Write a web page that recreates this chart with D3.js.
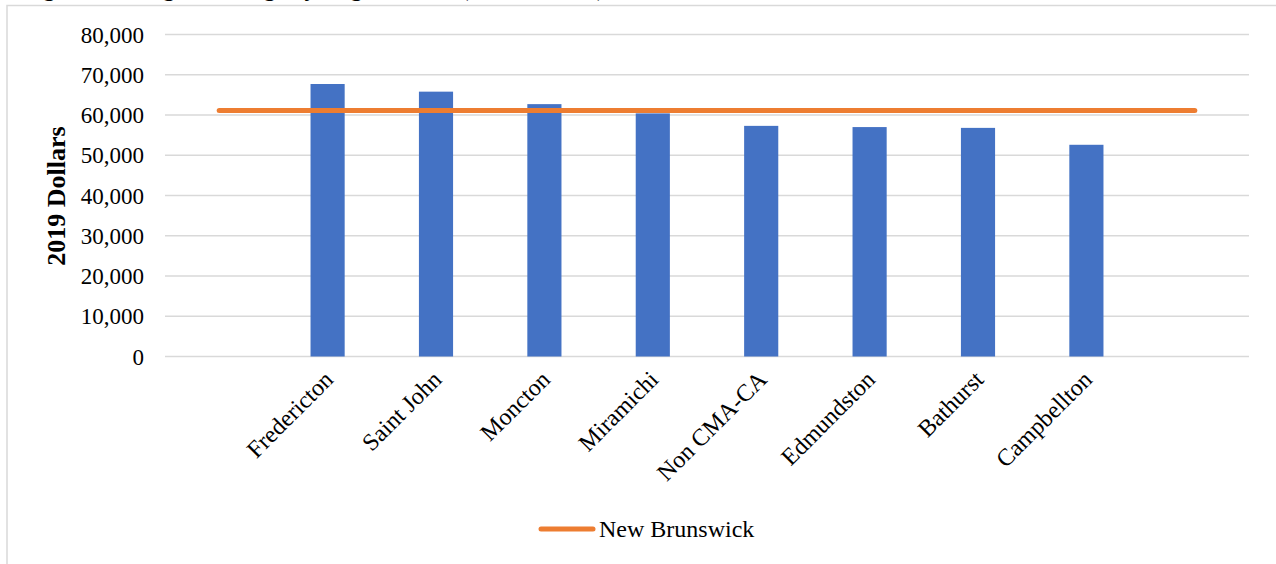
<!DOCTYPE html>
<html>
<head>
<meta charset="utf-8">
<script src="https://cdn.jsdelivr.net/npm/d3@7"></script>
<style>
  html, body { margin: 0; padding: 0; background: #fff; }
  svg { display: block; }
  text { font-family: "Liberation Serif", "Times New Roman", serif; fill: #000; }
</style>
</head>
<body>
<svg id="chart" width="1276" height="564"></svg>
<script>
// ---- data ----
const categories = ["Fredericton", "Saint John", "Moncton", "Miramichi", "Non CMA-CA", "Edmundston", "Bathurst", "Campbellton"];
const incomeValues = [67700, 65800, 62700, 60400, 57300, 57000, 56800, 52600];
const provinceName = "New Brunswick";
const provinceValue = 61100;
const yTicks = [0, 10000, 20000, 30000, 40000, 50000, 60000, 70000, 80000];
const yTitle = "2019 Dollars";
const chartTitle = "Figure: Average Earnings by Region, 2019 (2019 Dollars)";

// ---- layout ----
const svg = d3.select("#chart");
const plot = { left: 165, right: 1249, top: 34.5, bottom: 356.5 };

// slots: one empty slot before and after the categories (as in the source chart)
const slots = d3.range(categories.length + 2);
const x = d3.scaleBand().domain(slots).range([plot.left, plot.right]).padding(0);
const y = d3.scaleLinear().domain([0, 80000]).range([plot.bottom, plot.top]);
const barW = x.bandwidth() * 0.315;
const cx = i => x(i) + x.bandwidth() / 2;

// outer frame
svg.append("path")
  .attr("d", "M7,564 L7,5.5 L1276,5.5")
  .attr("fill", "none").attr("stroke", "#d9d9d9").attr("stroke-width", 1.5);

// clipped title (only its descenders show in the source)
svg.append("text")
  .attr("x", 22).attr("y", -4)
  .attr("font-size", 24).attr("font-weight", "bold")
  .text(chartTitle);

// gridlines
svg.append("g").selectAll("line").data(yTicks).join("line")
  .attr("x1", plot.left).attr("x2", plot.right)
  .attr("y1", d => y(d)).attr("y2", d => y(d))
  .attr("stroke", "#d9d9d9").attr("stroke-width", 1.5);

// y axis
const yAxis = svg.append("g")
  .attr("transform", `translate(${plot.left},0)`)
  .call(d3.axisLeft(y).tickValues(yTicks).tickFormat(d3.format(",")).tickSize(0).tickPadding(21));
yAxis.select(".domain").remove();
yAxis.selectAll("text")
  .attr("font-size", 23)
  .attr("font-family", "'Liberation Serif', 'Times New Roman', serif")
  .attr("fill", "#000")
  .attr("dy", "0.33em");

// y title
svg.append("text")
  .attr("transform", `translate(65,196) rotate(-90)`)
  .attr("text-anchor", "middle")
  .attr("font-size", 26).attr("font-weight", "bold")
  .text(yTitle);

// bars
svg.append("g").selectAll("rect").data(incomeValues).join("rect")
  .attr("x", (d, i) => cx(i + 1) - barW / 2)
  .attr("width", barW)
  .attr("y", d => y(d))
  .attr("height", d => y(0) - y(d))
  .attr("fill", "#4472C4");

// x labels
svg.append("g").selectAll("text").data(categories).join("text")
  .attr("transform", (d, i) => `translate(${cx(i + 1) + 7},${381}) rotate(-45)`)
  .attr("text-anchor", "end")
  .attr("font-size", 24)
  .text(d => d);

// province line (spans first to last slot centres)
const lineData = slots.map(s => ({ s, v: provinceValue }));
svg.append("path")
  .datum(lineData)
  .attr("d", d3.line().x(d => cx(d.s)).y(d => y(d.v)))
  .attr("fill", "none")
  .attr("stroke", "#ED7D31")
  .attr("stroke-width", 5)
  .attr("stroke-linecap", "round");

// legend
const lg = svg.append("g");
lg.append("line")
  .attr("x1", 541).attr("x2", 593).attr("y1", 529).attr("y2", 529)
  .attr("stroke", "#ED7D31").attr("stroke-width", 5).attr("stroke-linecap", "round");
lg.append("text")
  .attr("x", 599).attr("y", 537)
  .attr("font-size", 24)
  .text(provinceName);
</script>
</body>
</html>
